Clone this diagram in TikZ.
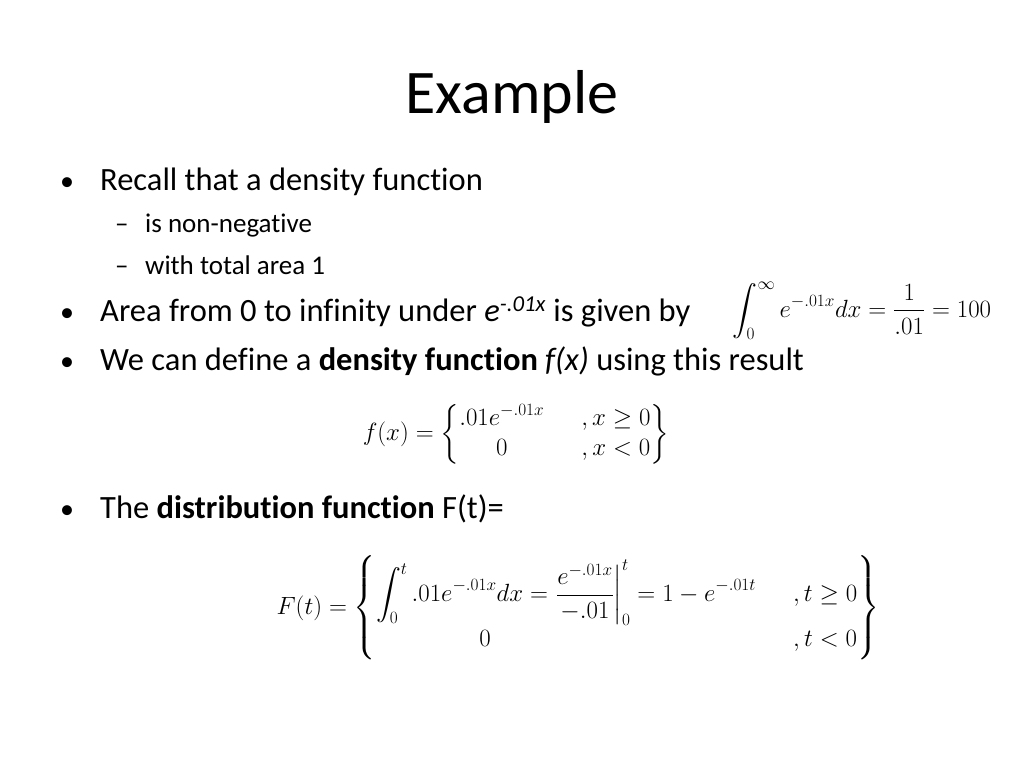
\documentclass[tikz,border=0pt]{standalone}
\usepackage{amsmath}
\usepackage{fontspec}
\setmainfont[Ligatures=NoCommon]{Carlito}
\begin{document}
\begin{tikzpicture}[x=1pt,y=-1pt,
  txt/.style={anchor=base west,inner sep=0pt,font=\fontsize{32.5}{36}\selectfont},
  bul/.style={anchor=base west,inner sep=0pt,font=\fontsize{28}{30}\selectfont},
  sub/.style={anchor=base west,inner sep=0pt,font=\fontsize{27}{30}\selectfont},
  eq/.style={anchor=center,inner sep=0pt,font=\fontsize{27}{30}\selectfont}]
\useasboundingbox (0,0) rectangle (1024,768);
\node[inner sep=0pt,font=\fontsize{62}{66}\selectfont] (title) at (512,97) {Example};
\node[bul] (b1) at (60,190) {•};
\node[txt] (t1) at (100,190) {Recall that a density function};
\node[sub] (d1) at (115,232) {–};
\node[sub] (s1) at (145,232) {is non-negative};
\node[sub] (d2) at (115,274) {–};
\node[sub] (s2) at (145,274) {with total area 1};
\node[bul] (b2) at (60,321) {•};
\node[txt] (t2) at (100,321) {Area from 0 to infinity under \textit{e}\textsuperscript{\textit{-.01x}} is given by};
\node[eq] (e1) at (862,311) {$\displaystyle\int_0^\infty e^{-.01x}dx=\frac{1}{.01}=100$};
\node[bul] (b3) at (60,370) {•};
\node[txt] (t3) at (100,370) {We can define a \textbf{density function} \textit{f(x)} using this result};
\node[eq] (e2) at (516,434) {$f(x)=\left\{\begin{matrix}.01e^{-.01x} & \quad ,x\ge 0\\ 0 & \quad ,x<0\end{matrix}\right\}$};
\node[bul] (b4) at (60,518) {•};
\node[txt] (t4) at (100,518) {The \textbf{distribution function} F(t)=};
\node[eq] (e3) at (578,608) {$F(t)=\left\{\begin{matrix}\displaystyle\int_0^t .01e^{-.01x}dx=\left.\frac{e^{-.01x}}{-.01}\right|_0^t=1-e^{-.01t} & \quad ,t\ge 0\\[4pt] 0\hspace{6em} & \quad ,t<0\end{matrix}\right\}$};
\end{tikzpicture}
\end{document}
